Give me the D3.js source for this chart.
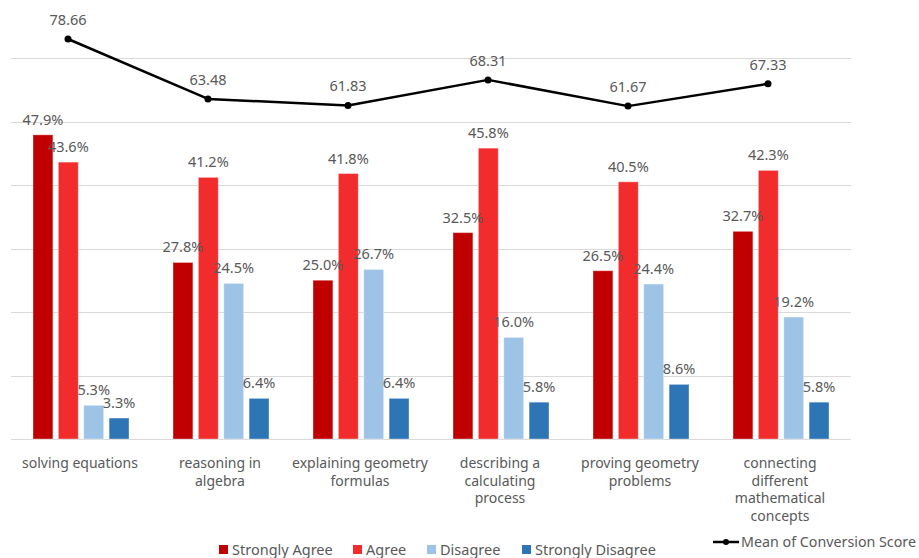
<!DOCTYPE html>
<html>
<head>
<meta charset="utf-8">
<script src="https://cdn.jsdelivr.net/npm/d3@7"></script>
<style>
  body { margin: 0; background: #fff; }
  text { font-family: "Noto Sans", "DejaVu Sans", sans-serif; fill: #595959; }
</style>
</head>
<body>
<svg id="chart" width="919" height="558"></svg>
<script>
var categories = ["solving equations", "reasoning in algebra", "explaining geometry formulas",
  "describing a calculating process", "proving geometry problems",
  "connecting different mathematical concepts"];
var tickLines = [["solving equations"], ["reasoning in", "algebra"], ["explaining geometry", "formulas"],
  ["describing a", "calculating", "process"], ["proving geometry", "problems"],
  ["connecting", "different", "mathematical", "concepts"]];
var seriesNames = ["Strongly Agree", "Agree", "Disagree", "Strongly Disagree"];
var stronglyAgree = [47.9, 27.8, 25.0, 32.5, 26.5, 32.7];
var agree = [43.6, 41.2, 41.8, 45.8, 40.5, 42.3];
var disagree = [5.3, 24.5, 26.7, 16.0, 24.4, 19.2];
var stronglyDisagree = [3.3, 6.4, 6.4, 5.8, 8.6, 5.8];
var meanScore = [78.66, 63.48, 61.83, 68.31, 61.67, 67.33];
var lineName = "Mean of Conversion Score";
var gridTicks = [0, 10, 20, 30, 40, 50, 60];

var colors = ["#C00000", "#F22C2C", "#9DC3E6", "#2E75B6"];
var series = [stronglyAgree, agree, disagree, stronglyDisagree];

var svg = d3.select("#chart");
var left = 11, right = 851, base = 439, top60 = 58;

var x0 = d3.scaleBand().domain(categories).range([left, right]).padding(0);
var x1 = d3.scaleBand().domain(seriesNames).range([22, 118]).paddingInner(0.216).paddingOuter(0);
var y = d3.scaleLinear().domain([0, 60]).range([base, top60]);
var y2 = d3.scaleLinear().domain([-22.6, 73.85]).range([base, top60]);

// gridlines
svg.append("g").selectAll("line")
  .data(gridTicks)
  .enter().append("line")
  .attr("x1", left).attr("x2", right)
  .attr("y1", function(d) { return Math.round(y(d)) + 0.5; })
  .attr("y2", function(d) { return Math.round(y(d)) + 0.5; })
  .attr("stroke", "#D9D9D9").attr("stroke-width", 1);

// bars
var rows = categories.map(function(c, i) {
  return { cat: c, vals: series.map(function(s, j) { return { name: seriesNames[j], v: s[i], k: j }; }) };
});

var groups = svg.append("g").selectAll("g")
  .data(rows)
  .enter().append("g")
  .attr("transform", function(d) { return "translate(" + x0(d.cat) + ",0)"; });

groups.selectAll("rect")
  .data(function(d) { return d.vals; })
  .enter().append("rect")
  .attr("x", function(d) { return x1(d.name); })
  .attr("width", x1.bandwidth())
  .attr("y", function(d) { return y(d.v); })
  .attr("height", function(d) { return base - y(d.v); })
  .attr("fill", function(d) { return colors[d.k]; })
  .attr("stroke", "#fff").attr("stroke-opacity", 0.35).attr("stroke-width", 1);

groups.selectAll("text")
  .data(function(d) { return d.vals; })
  .enter().append("text")
  .attr("x", function(d) { return x1(d.name) + x1.bandwidth() / 2; })
  .attr("y", function(d) { return y(d.v) - 10; })
  .attr("text-anchor", "middle")
  .style("font-size", "14.5px")
  .text(function(d) { return d.v.toFixed(1) + "%"; });

// category labels
var xAxis = svg.append("g").selectAll("text")
  .data(categories)
  .enter().append("text")
  .attr("x", function(d) { return x0(d) + x0.bandwidth() / 2 - 1; })
  .attr("y", 468)
  .attr("text-anchor", "middle")
  .style("font-size", "14px");
xAxis.each(function(d, i) {
  var t = d3.select(this);
  tickLines[i].forEach(function(line, k) {
    t.append("tspan").attr("x", t.attr("x")).attr("dy", k === 0 ? 0 : 17.5).text(line);
  });
});

// line on secondary axis
var lx = function(c) { return x0(c) + x0.bandwidth() / 2 - 13; };
var lineData = categories.map(function(c, i) { return { cat: c, v: meanScore[i] }; });
svg.append("path")
  .datum(lineData)
  .attr("fill", "none")
  .attr("stroke", "#000")
  .attr("stroke-width", 2.5)
  .attr("stroke-linejoin", "round")
  .attr("d", d3.line().x(function(d) { return lx(d.cat); }).y(function(d) { return y2(d.v); }));

svg.append("g").selectAll("circle")
  .data(lineData)
  .enter().append("circle")
  .attr("cx", function(d) { return lx(d.cat); })
  .attr("cy", function(d) { return y2(d.v); })
  .attr("r", 3.5)
  .attr("fill", "#000");

svg.append("g").selectAll("text")
  .data(lineData)
  .enter().append("text")
  .attr("x", function(d) { return lx(d.cat); })
  .attr("y", function(d) { return y2(d.v) - 14; })
  .attr("text-anchor", "middle")
  .style("font-size", "14.5px")
  .text(function(d) { return d.v.toFixed(2); });

// legend (bars)
var legendX = [219, 353, 427, 522];
var leg = svg.append("g").selectAll("g")
  .data(seriesNames)
  .enter().append("g")
  .attr("transform", function(d, i) { return "translate(" + legendX[i] + ",545)"; });
leg.append("rect").attr("width", 9).attr("height", 9).attr("fill", function(d, i) { return colors[i]; });
leg.append("text").attr("x", 13).attr("y", 10).style("font-size", "14.5px").text(function(d) { return d; });

// legend (line)
var ll = svg.append("g").attr("transform", "translate(713,542)");
ll.append("line").attr("x1", 0).attr("x2", 26).attr("stroke", "#000").attr("stroke-width", 2.5);
ll.append("circle").attr("cx", 13).attr("r", 3).attr("fill", "#000");
ll.append("text").attr("x", 28).attr("y", 5).style("font-size", "14.5px")
  .attr("textLength", 175).attr("lengthAdjust", "spacingAndGlyphs").text(lineName);
</script>
</body>
</html>
